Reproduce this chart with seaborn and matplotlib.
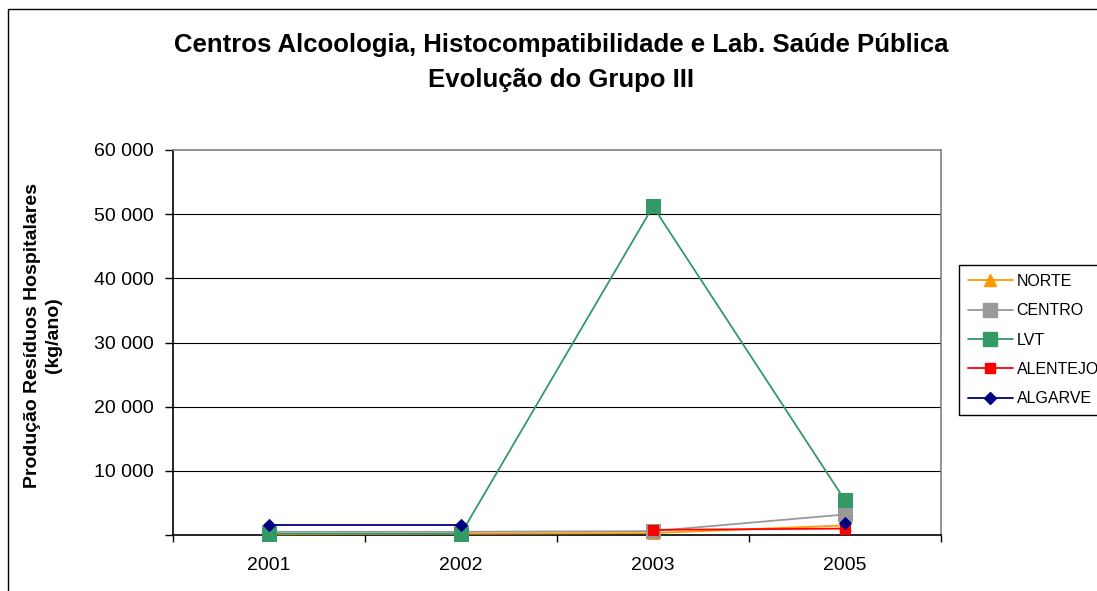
import numpy as np
import pandas as pd
import matplotlib
matplotlib.use("Agg")
import matplotlib.pyplot as plt
from matplotlib.lines import Line2D
from matplotlib.patches import Rectangle
import seaborn as sns

# ---- data ----
years = ["2001", "2002", "2003", "2005"]
norte = [100, 200, 300, 1500]
centro = [500, 500, 600, 3200]
lvt = [200, 200, 51200, 5400]
alentejo = [np.nan, np.nan, 800, 1000]
algarve = [1550, 1550, np.nan, 1850]
series_names = ["NORTE", "CENTRO", "LVT", "ALENTEJO", "ALGARVE"]
series_values = [norte, centro, lvt, alentejo, algarve]
yticks = [10000, 20000, 30000, 40000, 50000, 60000]
ytick_labels = ["10 000", "20 000", "30 000", "40 000", "50 000", "60 000"]
title1 = "Centros Alcoologia, Histocompatibilidade e Lab. Saúde Pública"
title2 = "Evolução do Grupo III"
ylabel = "Produção Resíduos Hospitalares\n(kg/ano)"

styles = {
    "NORTE": dict(color="#FF9900", marker="^", markersize=8),
    "CENTRO": dict(color="#999999", marker="s", markersize=10),
    "LVT": dict(color="#339966", marker="s", markersize=10),
    "ALENTEJO": dict(color="#FF0000", marker="s", markersize=7),
    "ALGARVE": dict(color="#000080", marker="D", markersize=6.5),
}

sns.set_style("white")
plt.rcParams["font.family"] = ["Liberation Sans", "DejaVu Sans"]
plt.rcParams["text.color"] = "black"
plt.rcParams["axes.labelcolor"] = "black"
plt.rcParams["xtick.color"] = "black"
plt.rcParams["ytick.color"] = "black"

fig = plt.figure(figsize=(10.97, 5.91), dpi=100)
W, H = 1097, 591
ax = fig.add_axes([173 / W, 1 - 535 / H, (941 - 173) / W, (535 - 150) / H])

# outer chart border
fig.patches.append(Rectangle((8 / W, -0.1), 2.0, (H - 9) / H + 0.1,
                             transform=fig.transFigure, fill=False,
                             ec="black", lw=1.0))

pos = np.arange(len(years))
for name, vals in zip(series_names, series_values):
    v = np.array(vals, dtype=float)
    seg = np.cumsum(np.isnan(v))
    df = pd.DataFrame({"pos": pos, "val": v, "seg": seg}).dropna()
    st = styles[name]
    sns.lineplot(data=df, x="pos", y="val", units="seg", estimator=None,
                 ax=ax, color=st["color"], marker=st["marker"],
                 markersize=st["markersize"], markeredgecolor=st["color"],
                 lw=1.3, legend=False, clip_on=False, zorder=3)

ax.set_xlim(-0.5, len(years) - 0.5)
ax.set_ylim(0, 60000)
ax.set_xlabel("")
ax.set_ylabel("")

ax.set_xticks(pos)
ax.set_xticklabels(years, fontsize=14)
ax.set_xticks(np.arange(-0.5, len(years), 1.0), minor=True)
ax.tick_params(axis="x", which="major", length=0, pad=16, labelcolor="black")
ax.tick_params(axis="x", which="minor", length=5, width=1, color="black",
               direction="out", bottom=True)

ax.set_yticks([0] + yticks)
ax.set_yticklabels([""] + ytick_labels, fontsize=14)
ax.tick_params(axis="y", which="major", length=6, width=1, color="black",
               direction="out", left=True, pad=8, labelcolor="black")

for yv in yticks[:-1]:
    ax.axhline(yv, color="black", lw=0.8, zorder=1)

for s in ["left", "bottom"]:
    ax.spines[s].set_color("black")
    ax.spines[s].set_linewidth(1.2)
for s in ["top", "right"]:
    ax.spines[s].set_color("#808080")
    ax.spines[s].set_linewidth(1.2)
    ax.spines[s].set_visible(True)

fig.text(561 / W, 1 - 45 / H, title1, ha="center", va="center",
         fontsize=18.5, fontweight="bold", color="black")
fig.text(561 / W, 1 - 80 / H, title2, ha="center", va="center",
         fontsize=18.5, fontweight="bold", color="black")
fig.text(43 / W, 1 - 335 / H, ylabel, ha="center", va="center",
         rotation=90, fontsize=14, fontweight="bold", multialignment="center",
         linespacing=1.35, color="black")

handles = [Line2D([0], [0], color=styles[n]["color"], marker=styles[n]["marker"],
                  markersize=styles[n]["markersize"], lw=1.3) for n in series_names]
leg = fig.legend(handles, series_names, loc="upper left",
                 bbox_to_anchor=(959 / W, 1 - 265 / H), fontsize=11.5,
                 frameon=True, fancybox=False, shadow=False, framealpha=1,
                 edgecolor="black", handlelength=2.8, handletextpad=0.25,
                 labelspacing=0.9, borderpad=0.55, borderaxespad=0)
leg.get_frame().set_linewidth(1.0)
for t in leg.get_texts():
    t.set_color("black")

fig.savefig("out.png", dpi=100)
